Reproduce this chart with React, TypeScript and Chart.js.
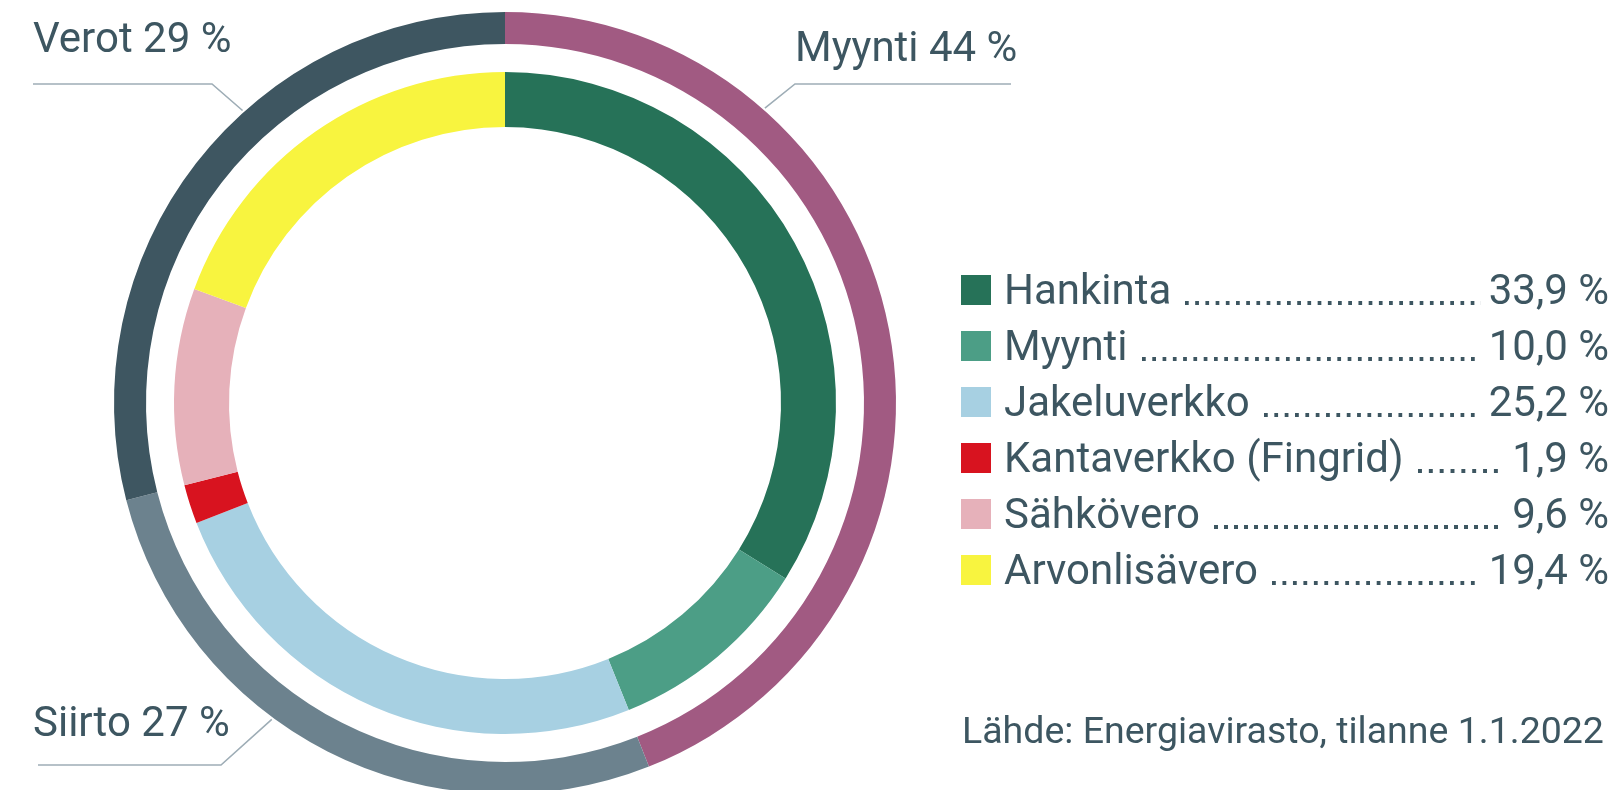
import React, { useEffect, useRef } from "react";
import { Chart, registerables } from "chart.js";

Chart.register(...registerables);

// Outer ring (main groups)
const outerLabels = ["Myynti", "Siirto", "Verot"];
const outerValues = [44, 27, 29];
const outerColors = ["#a15a82", "#6c828e", "#3e5661"];

// Inner ring (components)
const innerLabels = [
  "Hankinta",
  "Myynti",
  "Jakeluverkko",
  "Kantaverkko (Fingrid)",
  "Sähkövero",
  "Arvonlisävero",
];
const innerValues = [33.9, 10.0, 25.2, 1.9, 9.6, 19.4];
const innerColors = ["#267258", "#4c9e86", "#a7d0e2", "#d8131f", "#e6b1ba", "#f8f43f"];

const sourceText = "Lähde: Energiavirasto, tilanne 1.1.2022";

const TEXT = "#3d5661";
const FONT = "Roboto, 'Noto Sans', sans-serif";

const fmtPct = (v: number) => v.toFixed(1).replace(".", ",") + " %";

// leader line geometry for outer callouts (angle: degrees clockwise from top)
const leaders = [
  { angle: -41.9, elbowX: 212, elbowY: 84, endX: 33 },
  { angle: 41.4, elbowX: 795, elbowY: 84, endX: 1011 },
  { angle: 216.4, elbowX: 221, elbowY: 765, endX: 38 },
];

const outerLabelPos = [
  { left: 795, top: 22 },
  { left: 33, top: 697 },
  { left: 33, top: 13 },
];

const leaderPlugin = {
  id: "leaders",
  afterDatasetsDraw(chart: any) {
    const meta = chart.getDatasetMeta(0);
    const arc = meta.data[0];
    if (!arc) return;
    const { x: cx, y: cy, outerRadius } = arc.getProps(["x", "y", "outerRadius"], true);
    const ctx = chart.ctx as CanvasRenderingContext2D;
    ctx.save();
    ctx.strokeStyle = "#9eadb6";
    ctx.lineWidth = 1.6;
    leaders.forEach((l) => {
      const a = (l.angle * Math.PI) / 180;
      const r = outerRadius + 2;
      const ax = cx + r * Math.sin(a);
      const ay = cy - r * Math.cos(a);
      ctx.beginPath();
      ctx.moveTo(ax, ay);
      ctx.lineTo(l.elbowX, l.elbowY);
      ctx.lineTo(l.endX, l.elbowY);
      ctx.stroke();
    });
    ctx.restore();
  },
};

export default function App() {
  const canvasRef = useRef<HTMLCanvasElement | null>(null);

  useEffect(() => {
    if (!canvasRef.current) return;
    const chart = new Chart(canvasRef.current, {
      type: "doughnut",
      data: {
        labels: innerLabels,
        datasets: [
          {
            label: "outer",
            data: outerValues,
            backgroundColor: outerColors,
            borderWidth: 0,
            weight: 32,
          } as any,
          {
            label: "spacer",
            data: [1],
            backgroundColor: ["rgba(0,0,0,0)"],
            borderWidth: 0,
            weight: 28,
          } as any,
          {
            label: "inner",
            data: innerValues,
            backgroundColor: innerColors,
            borderWidth: 0,
            weight: 55,
          } as any,
        ],
      },
      options: {
        responsive: false,
        maintainAspectRatio: false,
        animation: false,
        events: [],
        cutout: 276,
        layout: { padding: { left: 114, right: 717, top: 12, bottom: 6 } },
        plugins: {
          legend: { display: false },
          tooltip: { enabled: false },
        },
      } as any,
      plugins: [leaderPlugin],
    });
    return () => chart.destroy();
  }, []);

  return (
    <div
      style={{
        position: "absolute",
        left: 0,
        top: 0,
        width: 1613,
        height: 790,
        overflow: "hidden",
        background: "#ffffff",
        fontFamily: FONT,
        color: TEXT,
      }}
    >
      <canvas
        ref={canvasRef}
        width={1613}
        height={800}
        style={{ position: "absolute", left: 0, top: 0, width: 1613, height: 800 }}
      />
      {outerLabels.map((l, i) => (
        <div
          key={l}
          style={{
            position: "absolute",
            left: outerLabelPos[i].left,
            top: outerLabelPos[i].top,
            fontSize: 42,
            lineHeight: "normal",
            whiteSpace: "nowrap",
          }}
        >
          {`${l} ${outerValues[i]} %`}
        </div>
      ))}
      {innerLabels.map((l, i) => (
        <div
          key={l}
          style={{
            position: "absolute",
            left: 961,
            top: 262 + 56 * i,
            width: 1609 - 961,
            height: 56,
            display: "flex",
            alignItems: "flex-start",
            fontSize: 42,
            lineHeight: "56px",
            whiteSpace: "nowrap",
          }}
        >
          <span
            style={{
              display: "inline-block",
              width: 30,
              height: 30,
              marginTop: 13,
              background: innerColors[i],
              flex: "0 0 auto",
            }}
          />
          <span style={{ marginLeft: 13, marginRight: 14, flex: "0 0 auto" }}>{l}</span>
          <span
            style={{
              flex: "1 1 auto",
              height: 56,
              backgroundImage: `linear-gradient(to right, ${TEXT} 0px, ${TEXT} 4px, transparent 4px, transparent 10px)`,
              backgroundSize: "10px 4px",
              backgroundRepeat: "space no-repeat",
              backgroundPosition: "right 0px top 39px",
            }}
          />
          <span style={{ marginLeft: 8, flex: "0 0 auto" }}>{fmtPct(innerValues[i])}</span>
        </div>
      ))}
      <div
        style={{
          position: "absolute",
          left: 962,
          top: 708,
          fontSize: 37.5,
          lineHeight: "normal",
          whiteSpace: "nowrap",
        }}
      >
        {sourceText}
      </div>
    </div>
  );
}
